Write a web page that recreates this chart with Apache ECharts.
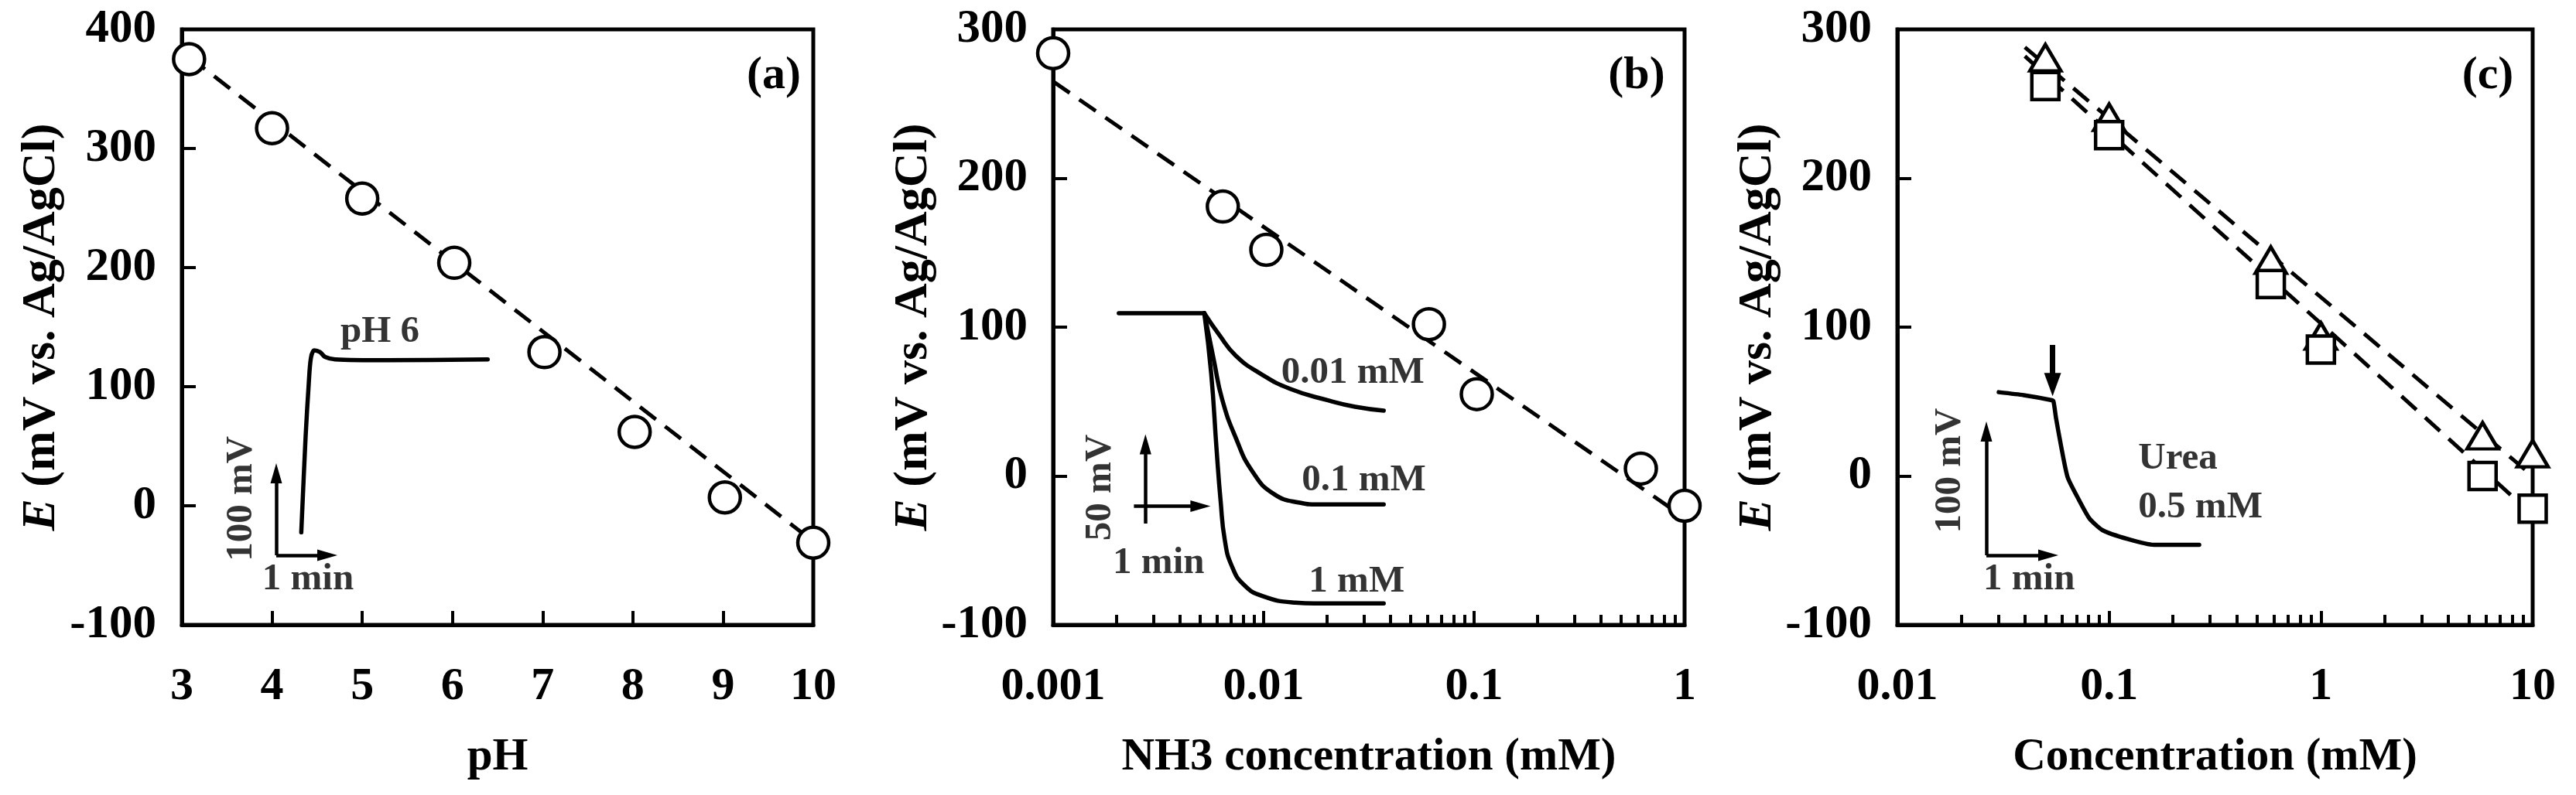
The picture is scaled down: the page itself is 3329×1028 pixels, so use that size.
<!DOCTYPE html>
<html>
<head>
<meta charset="utf-8">
<script src="https://cdn.jsdelivr.net/npm/echarts@6/dist/echarts.min.js"></script>
<style>
html,body{margin:0;padding:0;background:#fff;}
#chart{width:3329px;height:1028px;}
</style>
</head>
<body>
<div id="chart"></div>
<script>
// ---------- Panel (a): potential vs pH ----------
const phX = [3.08, 4, 5, 6.02, 7.02, 8.02, 9.02, 10];
const phE = [375, 317, 258, 204, 129, 62, 7, -31];
const phFitX = [3.08, 10];
const phFitE = [377, -30];
// inset (a): response at pH 6 (time in min, potential in mV)
const insetAT = [0.49, 0.576, 0.636, 0.677, 0.742, 0.853, 0.955, 1.156, 2.17, 4.14];
const insetAE = [28, 146, 209, 240, 250, 248, 242, 239, 238, 239];

// ---------- Panel (b): potential vs NH3 concentration ----------
const nh3X = [0.001, 0.0064, 0.0103, 0.061, 0.103, 0.62, 1];
const nh3E = [284, 181, 152, 102, 55, 5, -20];
const nh3FitX = [0.001, 1];
const nh3FitE = [265, -28];
// inset (b): transients (time in min, potential change in mV)
const baseT = [-1.555, 0];
const baseE = [0, 0];
const t001 = [0, 0.273, 0.569, 1.014, 1.558, 2.249, 2.744, 3.262];
const e001 = [0, -17.6, -34.2, -48.7, -61.1, -70.4, -75.6, -78.7];
const t01 = [0, 0.175, 0.323, 0.569, 0.866, 1.261, 1.755, 2.051, 3.262];
const e01 = [0, -38.3, -69.4, -100.4, -127.3, -146, -153.3, -154.6, -154.6];
const t1 = [0, 0.125, 0.224, 0.297, 0.372, 0.496, 0.717, 1.063, 1.656, 2.001, 3.262];
const e1 = [0, -48.7, -110.8, -152.1, -183.2, -203.9, -219.4, -228.7, -233.9, -234.5, -234.5];

// ---------- Panel (c): potential vs concentration ----------
const concX = [0.05, 0.1, 0.58, 1, 5.8, 10];
const triE = [281, 241, 145, 94, 27, 15];
const sqE = [262, 229, 129, 85, 0, -22];
const triFitX = [0.04, 10];
const triFitE = [288, 0];
const sqFitX = [0.04, 10];
const sqFitE = [282, -26];
// inset (c): urea 0.5 mM response
const ureaT = [0.2, 0.604, 1.041, 1.083, 1.125, 1.208, 1.313, 1.5, 1.666, 1.875, 2.291, 2.708, 3.438];
const ureaE = [131.8, 129.4, 125.5, 124.5, 110.9, 88, 63, 44.3, 29.7, 20.3, 13, 8.4, 8.4];

// tick labels
const yTicksA = [-100, 0, 100, 200, 300, 400];
const yTicksBC = [-100, 0, 100, 200, 300];

// ---------- helpers ----------
const FONT = '"Liberation Serif", "Times New Roman", serif';
const zip = (xs, ys) => xs.map((x, i) => [x, ys[i]]);
const textBase = { fontFamily: FONT, fontWeight: 'bold', color: '#000' };

function mainXAxis(gridIndex, cfg) {
  return Object.assign({
    gridIndex,
    axisLine: { show: true, onZero: false, lineStyle: { color: '#000', width: 5 } },
    axisTick: { show: true, inside: true, length: 18, lineStyle: { color: '#000', width: 4 } },
    axisLabel: Object.assign({ fontSize: 60, margin: 50 }, textBase),
    splitLine: { show: false },
    nameLocation: 'middle',
    nameGap: 142,
    nameTextStyle: Object.assign({ fontSize: 59 }, textBase)
  }, cfg);
}
function mainYAxis(gridIndex, cfg, gap) {
  return Object.assign({
    gridIndex, type: 'value', interval: 100,
    axisLine: { show: true, onZero: false, lineStyle: { color: '#000', width: 5 } },
    axisTick: { show: true, inside: true, length: 18, lineStyle: { color: '#000', width: 4 } },
    axisLabel: Object.assign({ fontSize: 61, margin: 33 }, textBase),
    splitLine: { show: false },
    name: '{i|E} (mV vs. Ag/AgCl)',
    nameLocation: 'middle',
    nameGap: gap,
    nameTextStyle: Object.assign({
      fontSize: 62,
      rich: { i: Object.assign({ fontSize: 62, fontStyle: 'italic' }, textBase) }
    }, textBase)
  }, cfg);
}
function hiddenAxis(gridIndex, min, max) {
  return { gridIndex, type: 'value', min, max, show: false };
}
const logFmt = v => String(parseFloat(Number(v).toPrecision(3)));

function dashed(x, y, xi, yi) {
  return { type: 'line', xAxisIndex: xi, yAxisIndex: yi, data: zip(x, y), showSymbol: false, symbol: 'none',
    lineStyle: { color: '#000', width: 5, type: [26, 15] }, silent: true, z: 2 };
}
function markers(x, y, xi, yi, symbol, size) {
  return { type: 'scatter', xAxisIndex: xi, yAxisIndex: yi, data: zip(x, y), symbol, symbolSize: size,
    itemStyle: { color: '#fff', borderColor: '#000', borderWidth: 4.5, opacity: 1 }, z: 3, silent: true };
}
function curve(x, y, xi, yi, smooth) {
  return { type: 'line', xAxisIndex: xi, yAxisIndex: yi, data: zip(x, y), showSymbol: false, symbol: 'none',
    smooth: smooth, lineStyle: { color: '#000', width: 5.5, cap: 'round', join: 'round' }, silent: true, clip: false };
}
function scaleBars(xi, yi, bars, arrowSize, width) {
  return { type: 'line', xAxisIndex: xi, yAxisIndex: yi, data: [], silent: true,
    markLine: { silent: true, animation: false, symbol: ['none', 'triangle'], symbolSize: arrowSize,
      label: { show: false }, lineStyle: { color: '#000', width: width || 4.5, type: 'solid' },
      emphasis: { disabled: true },
      data: bars.map(b => [{ coord: b[0] }, { coord: b[1] }]) } };
}
function note(xi, yi, items) {
  return { type: 'scatter', xAxisIndex: xi, yAxisIndex: yi, symbolSize: 1, clip: false, silent: true,
    itemStyle: { color: 'rgba(0,0,0,0)' }, z: 5,
    data: items.map(it => ({ value: [it.t, it.e], label: Object.assign({
      show: true, position: 'inside', formatter: it.text, fontSize: 49, rotate: it.rot || 0, align: it.align || 'center'
    }, textBase) })) };
}

const option = {
  animation: false,
  backgroundColor: '#fff',
  grid: [
    { left: 235, top: 38, width: 816, height: 770, show: true, borderColor: '#000', borderWidth: 5, backgroundColor: 'transparent' },
    { left: 291, top: 400, width: 363, height: 371 },
    { left: 1361, top: 38, width: 816, height: 770, show: true, borderColor: '#000', borderWidth: 5, backgroundColor: 'transparent' },
    { left: 1400, top: 357, width: 398, height: 480 },
    { left: 2452, top: 38, width: 821, height: 770, show: true, borderColor: '#000', borderWidth: 5, backgroundColor: 'transparent' },
    { left: 2487, top: 398, width: 400, height: 384 }
  ],
  xAxis: [
    mainXAxis(0, { type: 'value', min: 3, max: 10, interval: 1, name: 'pH' }),
    hiddenAxis(1, -1, 4.5),
    mainXAxis(2, { type: 'log', logBase: 10, min: 0.001, max: 1, name: 'NH3 concentration (mM)',
      axisLabel: Object.assign({ fontSize: 60, margin: 50, formatter: logFmt }, textBase),
      minorTick: { show: true, splitNumber: 9, length: 13, lineStyle: { color: '#000', width: 4 } } }),
    hiddenAxis(3, -2.2, 3.4),
    mainXAxis(4, { type: 'log', logBase: 10, min: 0.01, max: 10, name: 'Concentration (mM)',
      axisLabel: Object.assign({ fontSize: 60, margin: 50, formatter: logFmt }, textBase),
      minorTick: { show: true, splitNumber: 9, length: 13, lineStyle: { color: '#000', width: 4 } } }),
    hiddenAxis(5, -1, 4)
  ],
  yAxis: [
    mainYAxis(0, { min: yTicksA[0], max: yTicksA[yTicksA.length - 1] }, 150),
    hiddenAxis(1, -50, 300),
    mainYAxis(2, { min: yTicksBC[0], max: yTicksBC[yTicksBC.length - 1] }, 146),
    hiddenAxis(3, -270, 30),
    mainYAxis(4, { min: yTicksBC[0], max: yTicksBC[yTicksBC.length - 1] }, 146),
    hiddenAxis(5, -40, 200)
  ],
  graphic: [
    { type: 'text', x: 1000, y: 98, style: { text: '(a)', fontSize: 60, fontWeight: 'bold', fontFamily: FONT, fill: '#000', align: 'center', verticalAlign: 'middle' } },
    { type: 'text', x: 2115, y: 98, style: { text: '(b)', fontSize: 60, fontWeight: 'bold', fontFamily: FONT, fill: '#000', align: 'center', verticalAlign: 'middle' } },
    { type: 'text', x: 3215, y: 98, style: { text: '(c)', fontSize: 60, fontWeight: 'bold', fontFamily: FONT, fill: '#000', align: 'center', verticalAlign: 'middle' } }
  ],
  series: [
    // panel (a)
    dashed(phFitX, phFitE, 0, 0),
    markers(phX, phE, 0, 0, 'circle', 40),
    curve(insetAT, insetAE, 1, 1, 0.3),
    scaleBars(1, 1, [[[0, 0], [0, 100]], [[0, 0], [1, 0]]], [15, 26]),
    note(1, 1, [
      { text: 'pH 6', t: 2.03, e: 272 },
      { text: '1 min', t: 0.62, e: -30 },
      { text: '100 mV', t: -0.68, e: 69, rot: 90 }
    ]),
    // panel (b)
    dashed(nh3FitX, nh3FitE, 2, 2),
    markers(nh3X, nh3E, 2, 2, 'circle', 40),
    curve(baseT, baseE, 3, 3, false),
    curve(t001, e001, 3, 3, 0.5),
    curve(t01, e01, 3, 3, 0.5),
    curve(t1, e1, 3, 3, 0.5),
    scaleBars(3, 3, [[[-1.07, -170], [-1.07, -106]], [[-1.28, -156], [-0.07, -156]]], [15, 26]),
    note(3, 3, [
      { text: '0.01 mM', t: 2.70, e: -48.4 },
      { text: '0.1 mM', t: 2.90, e: -135.4 },
      { text: '1 mM', t: 2.77, e: -217.2 },
      { text: '1 min', t: -0.831, e: -202.1 },
      { text: '50 mV', t: -1.887, e: -140.9, rot: 90 }
    ]),
    // panel (c)
    dashed(triFitX, triFitE, 4, 4),
    dashed(sqFitX, sqFitE, 4, 4),
    markers(concX, triE, 4, 4, 'triangle', [40, 34]),
    markers(concX, sqE, 4, 4, 'rect', 35),
    curve(ureaT, ureaE, 5, 5, 0.2),
    scaleBars(5, 5, [[[0, 0], [0, 100]], [[0, 0], [1, 0]]], [15, 26]),
    scaleBars(5, 5, [[[1.07, 170], [1.07, 138]]], [22, 30], 7),
    note(5, 5, [
      { text: 'Urea', t: 2.454, e: 77.8, align: 'left' },
      { text: '0.5 mM', t: 2.454, e: 38.4, align: 'left' },
      { text: '1 min', t: 0.69, e: -19.7 },
      { text: '100 mV', t: -0.58, e: 68.4, rot: 90 }
    ])
  ]
};

const chart = echarts.init(document.getElementById('chart'), null, { renderer: 'canvas' });
chart.setOption(option);
</script>
</body>
</html>
